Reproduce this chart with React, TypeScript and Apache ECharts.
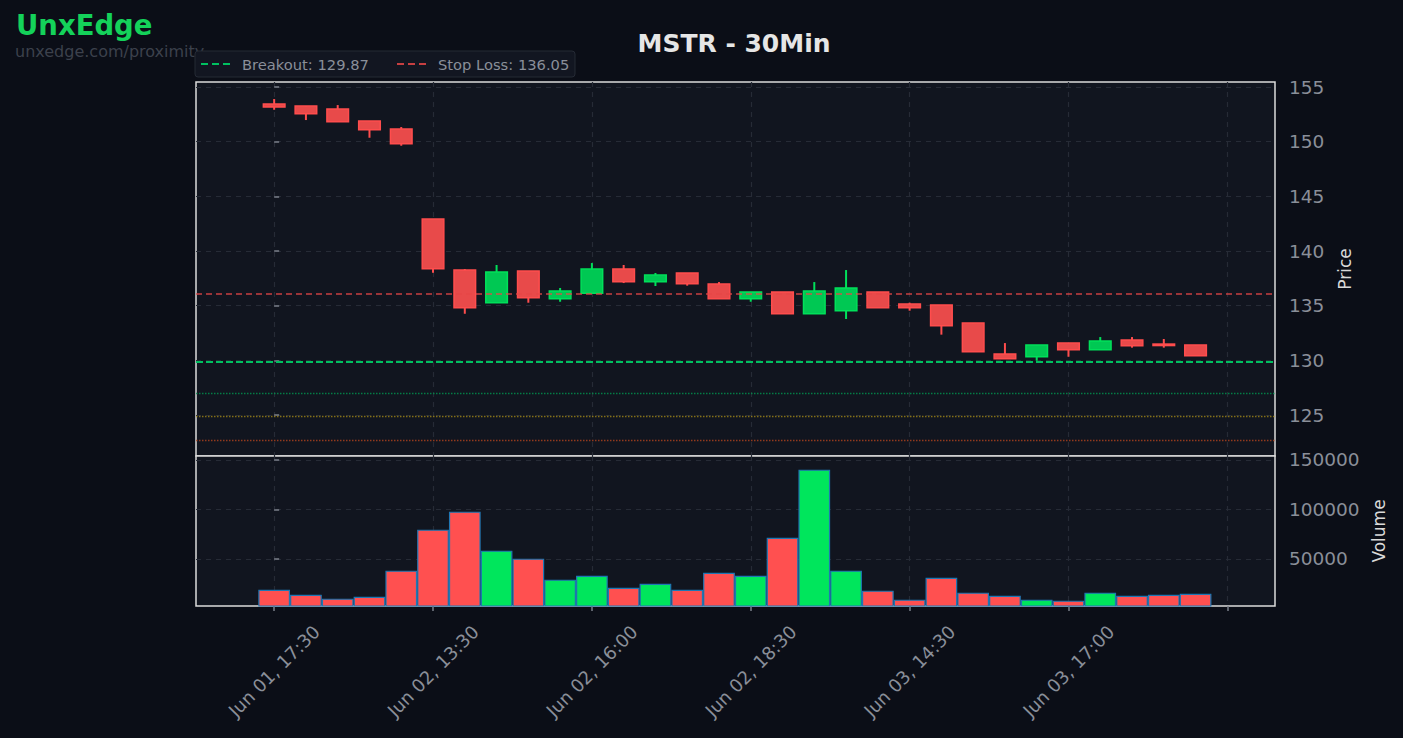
import React, { useEffect, useRef } from "react";
import * as echarts from "echarts";

// ---- data ----
const times = [
  "Jun 01, 17:30", "Jun 01, 18:00", "Jun 01, 18:30", "Jun 01, 19:00", "Jun 01, 19:30",
  "Jun 02, 13:30", "Jun 02, 14:00", "Jun 02, 14:30", "Jun 02, 15:00", "Jun 02, 15:30",
  "Jun 02, 16:00", "Jun 02, 16:30", "Jun 02, 17:00", "Jun 02, 17:30", "Jun 02, 18:00",
  "Jun 02, 18:30", "Jun 02, 19:00", "Jun 02, 19:30", "Jun 03, 13:30", "Jun 03, 14:00",
  "Jun 03, 14:30", "Jun 03, 15:00", "Jun 03, 15:30", "Jun 03, 16:00", "Jun 03, 16:30",
  "Jun 03, 17:00", "Jun 03, 17:30", "Jun 03, 18:00", "Jun 03, 18:30", "Jun 03, 19:00",
];
const opens = [153.45, 153.26, 152.99, 151.89, 151.16, 142.93, 138.26, 135.27, 138.17, 135.64, 136.13, 138.35, 137.19, 137.99, 136.98, 135.64, 136.25, 134.26, 134.54, 136.25, 135.15, 135.06, 133.41, 130.58, 130.33, 131.58, 130.97, 131.86, 131.49, 131.40];
const closes = [153.17, 152.56, 151.83, 151.10, 149.81, 138.38, 134.81, 138.08, 135.73, 136.34, 138.35, 137.19, 137.80, 137.01, 135.64, 136.25, 134.26, 136.34, 136.62, 134.81, 134.81, 133.17, 130.79, 130.15, 131.40, 130.97, 131.77, 131.34, 131.40, 130.42];
const highs = [153.90, 153.26, 153.35, 151.89, 151.34, 142.93, 138.35, 138.72, 138.17, 136.62, 138.90, 138.72, 137.99, 137.99, 137.16, 136.25, 136.25, 137.16, 138.26, 136.25, 135.27, 135.06, 133.41, 131.58, 131.40, 131.58, 132.13, 132.13, 131.95, 131.40];
const lows = [152.92, 151.98, 151.83, 150.36, 149.63, 138.01, 134.26, 135.27, 135.27, 135.36, 136.13, 137.07, 136.80, 136.83, 135.64, 135.36, 134.26, 134.26, 133.78, 134.81, 134.54, 132.35, 130.79, 130.15, 129.97, 130.33, 130.97, 131.16, 131.16, 130.42];
const volumes = [18350, 13300, 9300, 11300, 37600, 79000, 97200, 57800, 49700, 28500, 32500, 20400, 24400, 18350, 35500, 32500, 70900, 139600, 37600, 17400, 8300, 30500, 15400, 12300, 8300, 7300, 15400, 12300, 13300, 14300];

const xTickValues = [0, 5, 10, 15, 20, 25, 30];
const xLabelValues = [0, 5, 10, 15, 20, 25];
const priceTicks = [125, 130, 135, 140, 145, 150, 155];
const volumeTicks = [50000, 100000, 150000];

const breakout = 129.87;
const stopLoss = 136.05;
const targetLevels = [127.0, 124.9, 122.7];
const targetColors = ["rgba(0,150,80,0.8)", "rgba(180,150,20,0.7)", "rgba(190,70,30,0.75)"];

const UP_FILL = "#00c853";
const UP_EDGE = "#00e05a";
const DN_FILL = "#e84a4a";
const DN_EDGE = "#ff4d4d";
const LABEL = "#8a8f99";
const GRIDLINE = "#262b36";
const FONT = "DejaVu Sans";

export default function App() {
  const ref = useRef<HTMLDivElement>(null);
  useEffect(() => {
    if (!ref.current) return;
    const chart = echarts.init(ref.current, null, { renderer: "svg" });
    const candleData = times.map((_, i) => [i, opens[i], closes[i], lows[i], highs[i]]);
    const volData = times.map((_, i) => [i, volumes[i], closes[i] >= opens[i] ? 1 : 0]);

    const xAxisBase = (gridIndex: number, showLabels: boolean) => ({
      type: "value",
      gridIndex,
      min: -2.46,
      max: 31.5,
      axisLine: { show: false },
      axisTick: {
        show: showLabels,
        customValues: xTickValues,
        length: 5,
        lineStyle: { color: "#7a7f8a", width: 1.5 },
      },
      axisLabel: {
        show: showLabels,
        customValues: xLabelValues,
        rotate: 45,
        align: "center",
        verticalAlign: "middle",
        color: LABEL,
        fontFamily: FONT,
        fontSize: 18,
        margin: 65,
        formatter: (v: number) => times[Math.round(v)] ?? "",
      },
      splitLine: { show: true, lineStyle: { color: GRIDLINE, type: [5, 5], width: 1.2 } },
    });

    const option: any = {
      animation: false,
      backgroundColor: "#0b0e17",
      textStyle: { fontFamily: FONT },
      grid: [
        { left: 196, top: 82, width: 1079, height: 374, show: true, backgroundColor: "#11151f", borderColor: "#dcdcdc", borderWidth: 1.5 },
        { left: 196, top: 456, width: 1079, height: 150, show: true, backgroundColor: "#11151f", borderColor: "#dcdcdc", borderWidth: 1.5 },
      ],
      xAxis: [xAxisBase(0, false), xAxisBase(1, true)],
      yAxis: [
        {
          type: "value",
          gridIndex: 0,
          position: "right",
          min: 121.25,
          max: 155.46,
          axisLine: { show: false },
          axisTick: { show: true, customValues: priceTicks, length: 5, lineStyle: { color: "#7a7f8a", width: 1.5 } },
          axisLabel: { customValues: priceTicks, color: LABEL, fontFamily: FONT, fontSize: 18.5, margin: 14 },
          splitLine: { show: true, lineStyle: { color: GRIDLINE, type: [5, 5], width: 1.2 } },
          name: "Price",
          nameLocation: "middle",
          nameRotate: 90,
          nameGap: 61,
          nameTextStyle: { color: "#d9d9d9", fontFamily: FONT, fontSize: 17 },
        },
        {
          type: "value",
          gridIndex: 1,
          position: "right",
          min: 2500,
          max: 154000,
          axisLine: { show: false },
          axisTick: { show: true, customValues: volumeTicks, length: 5, lineStyle: { color: "#7a7f8a", width: 1.5 } },
          axisLabel: { customValues: volumeTicks, color: LABEL, fontFamily: FONT, fontSize: 18.5, margin: 14, formatter: (v: number) => String(v) },
          splitLine: { show: true, lineStyle: { color: GRIDLINE, type: [5, 5], width: 1.2 } },
          name: "Volume",
          nameLocation: "middle",
          nameRotate: 90,
          nameGap: 95,
          nameTextStyle: { color: "#d9d9d9", fontFamily: FONT, fontSize: 17 },
        },
      ],
      series: [
        {
          type: "custom",
          name: "candles",
          xAxisIndex: 0,
          yAxisIndex: 0,
          data: candleData,
          z: 3,
          renderItem: (params: any, api: any) => {
            const x = api.value(0);
            const o = api.value(1);
            const c = api.value(2);
            const l = api.value(3);
            const h = api.value(4);
            const up = c >= o;
            const top = api.coord([x, Math.max(o, c)]);
            const bot = api.coord([x, Math.min(o, c)]);
            const hi = api.coord([x, h]);
            const lo = api.coord([x, l]);
            const w = api.size([0.68, 0])[0];
            const edge = up ? UP_EDGE : DN_EDGE;
            const fill = up ? UP_FILL : DN_FILL;
            const bh = Math.max(bot[1] - top[1], 1.5);
            return {
              type: "group",
              children: [
                { type: "line", shape: { x1: hi[0], y1: hi[1], x2: lo[0], y2: lo[1] }, style: { stroke: edge, lineWidth: 2 } },
                { type: "rect", shape: { x: top[0] - w / 2, y: top[1], width: w, height: bh }, style: { fill, stroke: edge, lineWidth: 1.5 } },
              ],
            };
          },
          markLine: {
            silent: true,
            symbol: "none",
            label: { show: false },
            z: 10,
            data: [
              { yAxis: breakout, lineStyle: { color: "#00c060", type: [7, 3], width: 2, opacity: 1 } },
              { yAxis: stopLoss, lineStyle: { color: "rgba(230,70,70,0.85)", type: [6, 4], width: 1.6, opacity: 1 } },
              ...targetLevels.map((v, i) => ({ yAxis: v, lineStyle: { color: targetColors[i], type: [1.5, 1.5], width: 1.3, opacity: 1 } })),
            ],
          },
        },
        {
          type: "custom",
          name: "volume",
          xAxisIndex: 1,
          yAxisIndex: 1,
          data: volData,
          renderItem: (params: any, api: any) => {
            const x = api.value(0);
            const v = api.value(1);
            const up = api.value(2) === 1;
            const p = api.coord([x, v]);
            const b = api.coord([x, 2500]);
            const w = api.size([0.96, 0])[0];
            return {
              type: "rect",
              shape: { x: p[0] - w / 2, y: p[1], width: w, height: b[1] - p[1] },
              style: { fill: up ? "#00e65c" : "#ff5050", stroke: "#1f77b4", lineWidth: 1.2 },
            };
          },
        },
      ],
      graphic: [
        { type: "text", x: 16, y: 25, style: { text: "UnxEdge", fill: "#14d25a", font: `bold 27.5px "${FONT}"`, textVerticalAlign: "middle" } },
        { type: "text", x: 15, y: 51, style: { text: "unxedge.com/proximity", fill: "#3c414c", font: `16px "${FONT}"`, textVerticalAlign: "middle" } },
        { type: "text", x: 734, y: 43, style: { text: "MSTR - 30Min", fill: "#e6e6e6", font: `bold 25px "${FONT}"`, textAlign: "center", textVerticalAlign: "middle" } },
        { type: "rect", shape: { x: 195, y: 51, width: 380, height: 26, r: 3 }, style: { fill: "#121621", stroke: "#252a35", lineWidth: 1 } },
        { type: "line", shape: { x1: 201, y1: 64, x2: 231, y2: 64 }, style: { stroke: "#00c060", lineWidth: 2, lineDash: [7, 4] } },
        { type: "text", x: 242, y: 64, style: { text: `Breakout: ${breakout.toFixed(2)}`, fill: LABEL, font: `14.7px "${FONT}"`, textVerticalAlign: "middle" } },
        { type: "line", shape: { x1: 397, y1: 64, x2: 427, y2: 64 }, style: { stroke: "rgba(230,70,70,0.85)", lineWidth: 2, lineDash: [7, 4] } },
        { type: "text", x: 438, y: 64, style: { text: `Stop Loss: ${stopLoss.toFixed(2)}`, fill: LABEL, font: `14.7px "${FONT}"`, textVerticalAlign: "middle" } },
      ],
    };
    chart.setOption(option);
    return () => chart.dispose();
  }, []);
  return <div ref={ref} style={{ position: "fixed", left: 0, top: 0, width: 1403, height: 738 }} />;
}
